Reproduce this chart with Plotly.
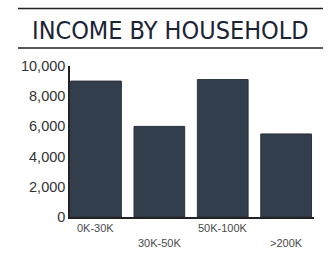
import plotly.graph_objects as go

categories = ["0K-30K", "30K-50K", "50K-100K", ">200K"]
households = [9000, 6000, 9100, 5500]
y_ticks = [0, 2000, 4000, 6000, 8000, 10000]
title_text = "INCOME BY HOUSEHOLD"

W, H = 328, 254
L, R, T, B = 70, 14, 66, 37
plot_h = H - T - B
plot_w = W - L - R

def py(pixel_y):
    return (H - B - pixel_y) / plot_h

def px(pixel_x):
    return (pixel_x - L) / plot_w

fig = go.Figure()
fig.add_trace(go.Bar(
    x=list(range(len(categories))),
    y=households,
    width=0.8,
    marker=dict(color="#333e4c", line=dict(color="#28313d", width=1)),
    hoverinfo="skip",
))

annotations = []
for i, c in enumerate(categories):
    annotations.append(dict(
        x=i, y=0, xref="x", yref="y", text=c, showarrow=False,
        yanchor="top", xanchor="center", yshift=-3 if i % 2 == 0 else -18,
        font=dict(family="Liberation Sans, Arial", size=11, color="#4a4a4a"),
    ))
annotations.append(dict(
    x=px(170.5), y=py(30.5), xref="paper", yref="paper", text=title_text,
    showarrow=False, xanchor="center", yanchor="middle",
    font=dict(family="Liberation Sans Narrow, DejaVu Sans Condensed, Arial Narrow", size=25,
              color="#1a2434"),
))

shapes = [
    dict(type="line", xref="paper", yref="paper", x0=px(18), x1=px(323), y0=py(8.5), y1=py(8.5),
         line=dict(color="#222222", width=1.5)),
    dict(type="line", xref="paper", yref="paper", x0=px(18), x1=px(323), y0=py(48), y1=py(48),
         line=dict(color="#222222", width=1.5)),
]

fig.update_layout(
    width=W, height=H,
    margin=dict(l=L, r=R, t=T, b=B, pad=0),
    paper_bgcolor="white", plot_bgcolor="white",
    showlegend=False,
    annotations=annotations,
    shapes=shapes,
    xaxis=dict(range=[-0.41, 3.44], showticklabels=False, ticks="", showgrid=False,
               zeroline=False, showline=True, linecolor="#222222", linewidth=1.5, fixedrange=True),
    yaxis=dict(range=[0, 10000], tickvals=y_ticks, tickformat=",", ticks="", showgrid=False,
               zeroline=False, showline=True, linecolor="#222222", linewidth=1.5,
               tickfont=dict(family="Liberation Sans, Arial", size=14.5, color="#333333"),
               fixedrange=True),
)

fig.write_html(
    "out.html",
    config={"displayModeBar": False},
    post_script="document.body.style.margin='0';document.body.style.overflow='hidden';",
)
